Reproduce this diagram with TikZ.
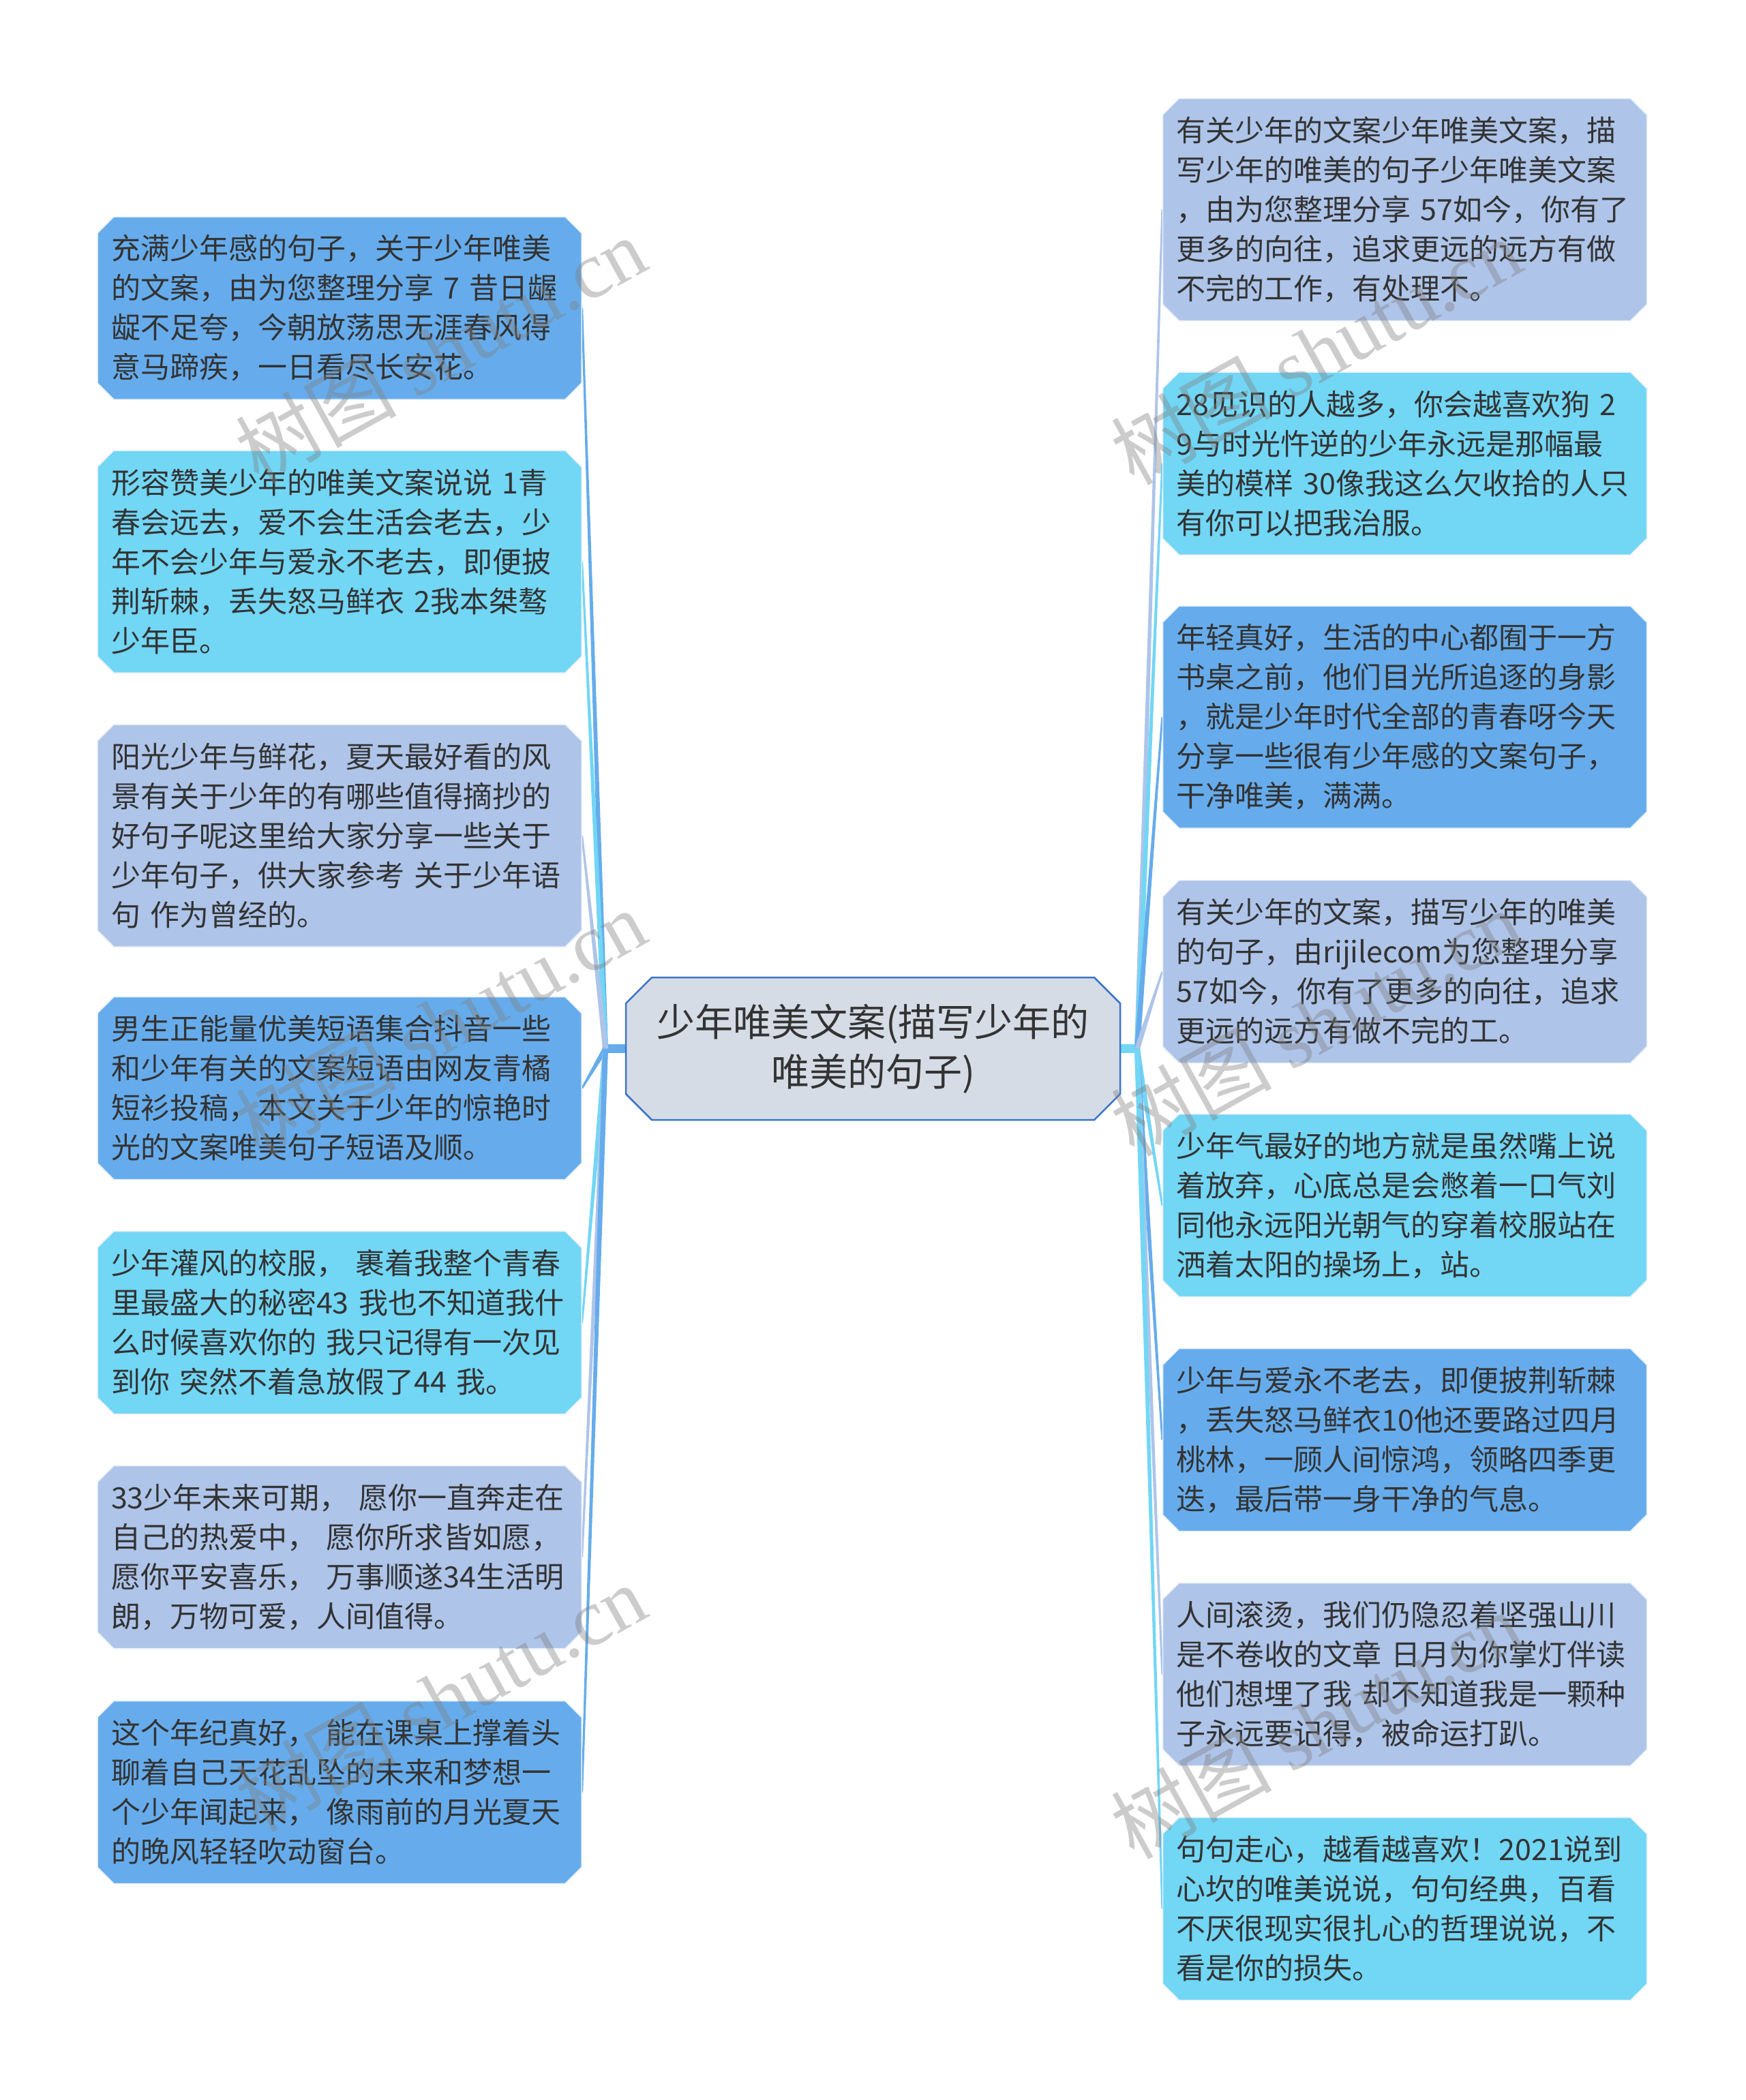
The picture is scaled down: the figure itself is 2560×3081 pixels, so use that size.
\documentclass[tikz,border=0pt]{standalone}
\usepackage{fontspec}
\setmainfont{Noto Sans CJK SC}
\newfontfamily\wmfont{Liberation Serif}
\usetikzlibrary{shapes.misc,calc}
\pgfdeclarelayer{background}
\pgfsetlayers{background,main}
\definecolor{cdark}{HTML}{66ACEC}
\definecolor{ccyan}{HTML}{72D6F5}
\definecolor{cperi}{HTML}{AEC4E9}
\definecolor{ccfill}{HTML}{D5DCE6}
\definecolor{ccdraw}{HTML}{3C74C8}
\definecolor{edgec}{HTML}{E4EEF8}
\definecolor{textc}{HTML}{333333}
\newcommand\taper[3]{%
  \fill[#3] ($(#1)!4pt!90:(#2)$) -- ($(#2)!1.4pt!-90:(#1)$) -- ($(#2)!1.4pt!90:(#1)$) -- ($(#1)!4pt!-90:(#2)$) -- cycle;}
\begin{document}
\begin{tikzpicture}[x=1pt,y=-1pt,
  leaf/.style={chamfered rectangle, chamfered rectangle xsep=12pt, chamfered rectangle ysep=12pt,
    draw=edgec, line width=1.5pt, text=textc, inner xsep=0pt, inner ysep=0pt,
    minimum width=710pt, text width=670pt, align=left,
    font=\fontsize{43}{58}\selectfont},
  four/.style={leaf, minimum height=268pt},
  five/.style={leaf, minimum height=326pt},
  center/.style={chamfered rectangle, chamfered rectangle xsep=19pt, chamfered rectangle ysep=19pt,
    fill=ccfill, draw=ccdraw, line width=2.5pt, text=textc, inner sep=0pt,
    minimum width=725pt, minimum height=209pt, align=center,
    font=\fontsize{56}{73}\selectfont},
  wm/.style={text=gray, opacity=0.4, rotate=29, font=\fontsize{118}{118}\selectfont, inner sep=0pt}
]
\useasboundingbox (0,0) rectangle (2560,3081);

\node[center] (C) at (1280.5,1538.5) {少年唯美文案(描写少年的\\唯美的句子)};

% left
\node[four, fill=cdark] (L1) at (498,452) {充满少年感的句子，关于少年唯美\\的文案，由为您整理分享 7 昔日龌\\龊不足夸，今朝放荡思无涯春风得\\意马蹄疾，一日看尽长安花。};
\node[five, fill=ccyan] (L2) at (498,824) {形容赞美少年的唯美文案说说 1青\\春会远去，爱不会生活会老去，少\\年不会少年与爱永不老去，即便披\\荆斩棘，丢失怒马鲜衣 2我本桀骜\\少年臣。};
\node[five, fill=cperi] (L3) at (498,1226) {阳光少年与鲜花，夏天最好看的风\\景有关于少年的有哪些值得摘抄的\\好句子呢这里给大家分享一些关于\\少年句子，供大家参考 关于少年语\\句 作为曾经的。};
\node[four, fill=cdark] (L4) at (498,1596.5) {男生正能量优美短语集合抖音一些\\和少年有关的文案短语由网友青橘\\短衫投稿，本文关于少年的惊艳时\\光的文案唯美句子短语及顺。};
\node[four, fill=ccyan] (L5) at (498,1940.5) {少年灌风的校服， 裹着我整个青春\\里最盛大的秘密43 我也不知道我什\\么时候喜欢你的 我只记得有一次见\\到你 突然不着急放假了44 我。};
\node[four, fill=cperi] (L6) at (498,2284.5) {33少年未来可期， 愿你一直奔走在\\自己的热爱中， 愿你所求皆如愿，\\愿你平安喜乐， 万事顺遂34生活明\\朗，万物可爱，人间值得。};
\node[four, fill=cdark] (L7) at (498,2629.5) {这个年纪真好， 能在课桌上撑着头\\聊着自己天花乱坠的未来和梦想一\\个少年闻起来， 像雨前的月光夏天\\的晚风轻轻吹动窗台。};

% right
\node[five, fill=cperi] (R1) at (2060.5,307.5) {有关少年的文案少年唯美文案，描\\写少年的唯美的句子少年唯美文案\\，由为您整理分享 57如今，你有了\\更多的向往，追求更远的远方有做\\不完的工作，有处理不。};
\node[four, fill=ccyan] (R2) at (2060.5,680) {28见识的人越多，你会越喜欢狗 2\\9与时光忤逆的少年永远是那幅最\\美的模样 30像我这么欠收拾的人只\\有你可以把我治服。};
\node[five, fill=cdark] (R3) at (2060.5,1052) {年轻真好，生活的中心都囿于一方\\书桌之前，他们目光所追逐的身影\\，就是少年时代全部的青春呀今天\\分享一些很有少年感的文案句子，\\干净唯美，满满。};
\node[four, fill=cperi] (R4) at (2060.5,1425.5) {有关少年的文案，描写少年的唯美\\的句子，由rijilecom为您整理分享\\57如今，你有了更多的向往，追求\\更远的远方有做不完的工。};
\node[four, fill=ccyan] (R5) at (2060.5,1768.5) {少年气最好的地方就是虽然嘴上说\\着放弃，心底总是会憋着一口气刘\\同他永远阳光朝气的穿着校服站在\\洒着太阳的操场上，站。};
\node[four, fill=cdark] (R6) at (2060.5,2112.5) {少年与爱永不老去，即便披荆斩棘\\，丢失怒马鲜衣10他还要路过四月\\桃林，一顾人间惊鸿，领略四季更\\迭，最后带一身干净的气息。};
\node[four, fill=cperi] (R7) at (2060.5,2456.5) {人间滚烫，我们仍隐忍着坚强山川\\是不卷收的文章 日月为你掌灯伴读\\他们想埋了我 却不知道我是一颗种\\子永远要记得，被命运打趴。};
\node[four, fill=ccyan] (R8) at (2060.5,2800.5) {句句走心，越看越喜欢！2021说到\\心坎的唯美说说，句句经典，百看\\不厌很现实很扎心的哲理说说，不\\看是你的损失。};

\coordinate (hubL) at (888,1538.5);
\coordinate (hubR) at (1668,1538.5);

\begin{pgfonlayer}{background}
\draw[cdark, line width=13pt] (C.west) -- (hubL);
\draw[ccyan, line width=13pt] (C.east) -- (hubR);
\taper{hubL}{L1.east}{cdark}
\taper{hubL}{L2.east}{ccyan}
\taper{hubL}{L3.east}{cperi}
\taper{hubL}{L4.east}{cdark}
\taper{hubL}{L5.east}{ccyan}
\taper{hubL}{L6.east}{cperi}
\taper{hubL}{L7.east}{cdark}
\taper{hubR}{R1.west}{cperi}
\taper{hubR}{R2.west}{ccyan}
\taper{hubR}{R3.west}{cdark}
\taper{hubR}{R4.west}{cperi}
\taper{hubR}{R5.west}{ccyan}
\taper{hubR}{R6.west}{cdark}
\taper{hubR}{R7.west}{cperi}
\taper{hubR}{R8.west}{ccyan}
\end{pgfonlayer}

% watermarks
\node[wm] (w1) at (646,513) {树图 {\wmfont shutu.cn}};
\node[wm] (w2) at (646,1500) {树图 {\wmfont shutu.cn}};
\node[wm] (w3) at (646,2490) {树图 {\wmfont shutu.cn}};
\node[wm] (w4) at (1930,515) {树图 {\wmfont shutu.cn}};
\node[wm] (w5) at (1930,1500) {树图 {\wmfont shutu.cn}};
\node[wm] (w6) at (1930,2530) {树图 {\wmfont shutu.cn}};
\end{tikzpicture}
\end{document}
